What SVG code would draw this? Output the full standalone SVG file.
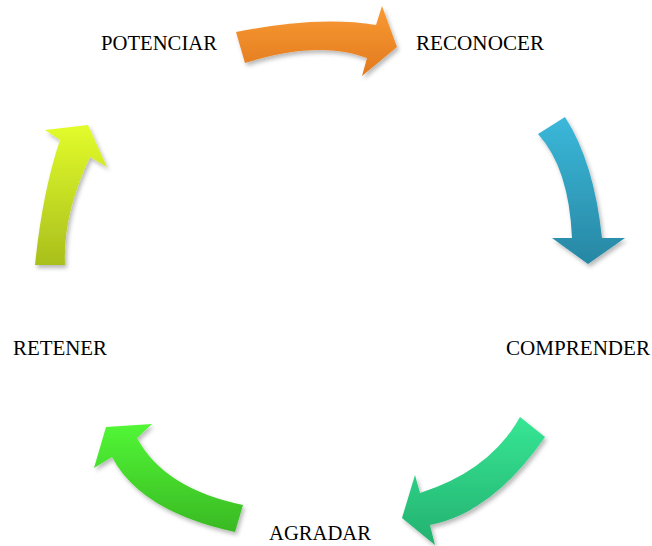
<svg xmlns="http://www.w3.org/2000/svg" width="652" height="546" viewBox="0 0 652 546">
<style>
.lbl{font-family:"Liberation Serif","Times New Roman",serif;font-size:20px;fill:#000}
.arr{filter:url(#sh)}
</style>
<defs>
<filter id="sh" x="-20%" y="-20%" width="140%" height="140%">
<feDropShadow dx="2" dy="3" stdDeviation="2" flood-color="#000" flood-opacity="0.28"/>
</filter>
<linearGradient id="gO" x1="0" y1="0" x2="0" y2="1"><stop offset="0" stop-color="#f99a33"/><stop offset="1" stop-color="#e27a1f"/></linearGradient>
<linearGradient id="gC" x1="0" y1="0" x2="0" y2="1"><stop offset="0" stop-color="#3bb8da"/><stop offset="1" stop-color="#2787a3"/></linearGradient>
<linearGradient id="gG" x1="0" y1="0" x2="0" y2="1"><stop offset="0" stop-color="#36e694"/><stop offset="1" stop-color="#24b170"/></linearGradient>
<linearGradient id="gL" x1="0" y1="0" x2="0" y2="1"><stop offset="0" stop-color="#52f736"/><stop offset="1" stop-color="#39b923"/></linearGradient>
<linearGradient id="gY" x1="0" y1="0" x2="0" y2="1"><stop offset="0" stop-color="#e2fc2b"/><stop offset="1" stop-color="#a9bf1d"/></linearGradient>
</defs>
<g id="connectors">
<path class="arr" fill="url(#gO)" d="M236,32 Q318,15.5 376,25 L382,6 L397,47 L362,76 L367,58 Q319,40 245,63 Z"/>
<path class="arr" fill="url(#gC)" d="M565,117 Q594,162 602,238 L625,238 L588,264 L552,238 L572,238 Q569,168 538,134 Z"/>
<path class="arr" fill="url(#gG)" d="M520,417 Q490,471 420,493 L415,475 L402,518 L435,545 L430,525 Q492.5,513 545,437 Z"/>
<path class="arr" fill="url(#gL)" d="M243,505 Q164,488.5 137,438 L152,424 L106,427 L94,468 L112,457 Q140.5,511.5 235,532 Z"/>
<path class="arr" fill="url(#gY)" d="M35,265 Q42.5,191.5 60,140 L45,130 L88,125 L107,167 L90,157 Q62.5,215 65,265 Z"/>
</g>
<g id="potenciar"><text class="lbl" x="101" y="50" textLength="116" lengthAdjust="spacingAndGlyphs">POTENCIAR</text></g>
<g id="reconocer"><text class="lbl" x="416" y="50" textLength="128" lengthAdjust="spacingAndGlyphs">RECONOCER</text></g>
<g id="comprender"><text class="lbl" x="506" y="355" textLength="144" lengthAdjust="spacingAndGlyphs">COMPRENDER</text></g>
<g id="retener"><text class="lbl" x="13" y="355" textLength="94" lengthAdjust="spacingAndGlyphs">RETENER</text></g>
<g id="agradar"><text class="lbl" x="269" y="540" textLength="102" lengthAdjust="spacingAndGlyphs">AGRADAR</text></g>
</svg>
